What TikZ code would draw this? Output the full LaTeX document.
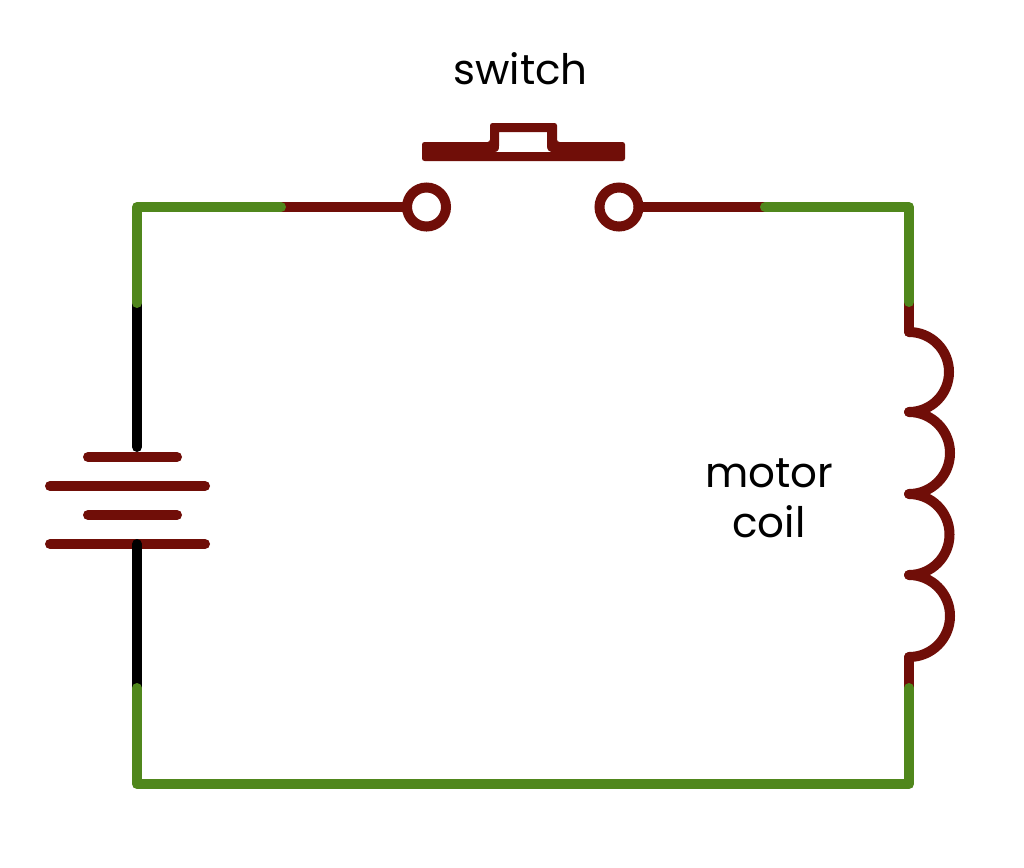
\documentclass[tikz,border=0pt]{standalone}
\usepackage{fontspec}
\setmainfont{Poppins}
\definecolor{wirered}{RGB}{112,14,8}
\definecolor{wiregreen}{RGB}{80,135,28}
\tikzset{
  wire/.style={line width=10pt,line cap=round,line join=round},
  redwire/.style={wire,draw=wirered},
  greenwire/.style={wire,draw=wiregreen},
  blackwire/.style={wire,draw=black},
  terminal/.style={circle,draw=wirered,line width=10pt,fill=white,minimum size=39pt,inner sep=0pt,outer sep=0pt},
  label/.style={font=\fontsize{42}{50}\selectfont,text=black,align=center,inner sep=0pt}
}
\begin{document}
\begin{tikzpicture}[x=1pt,y=-1pt]
\useasboundingbox[fill=white] (0,0) rectangle (1024,867);
% coordinates
\coordinate (tl) at (137,207);
\coordinate (tr) at (909,207);
\coordinate (bl) at (137,784);
\coordinate (br) at (909,784);
\coordinate (g1) at (137,303);
\coordinate (b1) at (137,447);
\coordinate (b2) at (137,544);
\coordinate (g2) at (137,688);
\coordinate (r1) at (281,207);
\coordinate (r2) at (765,207);
\coordinate (c0) at (909,302);
\coordinate (c1) at (909,332);
\coordinate (c2) at (909,412);
\coordinate (c3) at (909,494);
\coordinate (c4) at (909,575);
\coordinate (c5) at (909,657);
\coordinate (c6) at (909,688);
% switch terminals
\node[terminal] (swl) at (426.5,207) {};
\node[terminal] (swr) at (619,207) {};
% red leads
\draw[redwire] (r1) -- (swl);
\draw[redwire] (swr) -- (r2);
\draw[redwire] (c0) -- (c1);
\draw[redwire] (c5) -- (c6);
% coil
\draw[redwire] (c1) arc[start angle=-90,end angle=90,radius=40];
\draw[redwire] (c2) arc[start angle=-90,end angle=90,radius=41];
\draw[redwire] (c3) arc[start angle=-90,end angle=90,radius=40.5];
\draw[redwire] (c4) arc[start angle=-90,end angle=90,radius=41];
% battery plates
\draw[redwire] (88,457) -- (177,457);
\draw[redwire] (50,486) -- (205,486);
\draw[redwire] (88,515) -- (177,515);
\draw[redwire] (50,544) -- (205,544);
\draw[blackwire] (g1) -- (b1);
\draw[blackwire] (b2) -- (g2);
% green wires
\draw[greenwire] (r1) -- (tl) -- (g1);
\draw[greenwire] (r2) -- (tr) -- (c0);
\draw[greenwire] (g2) -- (bl) -- (br) -- (c6);
% switch actuator
\fill[wirered,rounded corners=2.5pt,even odd rule]
  (422,142) -- (490,142) -- (490,123) -- (557,123) -- (557,142) -- (625,142) -- (625,161) -- (422,161) -- cycle
  (499,132) [sharp corners] -- (547,132) -- (547,146) .. controls (547,150) and (549,152) .. (553,152) -- (494,152) .. controls (498,152) and (499,150) .. (499,146) -- cycle;
% labels
\node[label,anchor=base] (swlabel) at (520.5,84) {switch};
\node[label,anchor=base] (motorlabel) at (769,487) {motor};
\node[label,anchor=base] (coillabel) at (769,537) {coil};
\end{tikzpicture}
\end{document}
